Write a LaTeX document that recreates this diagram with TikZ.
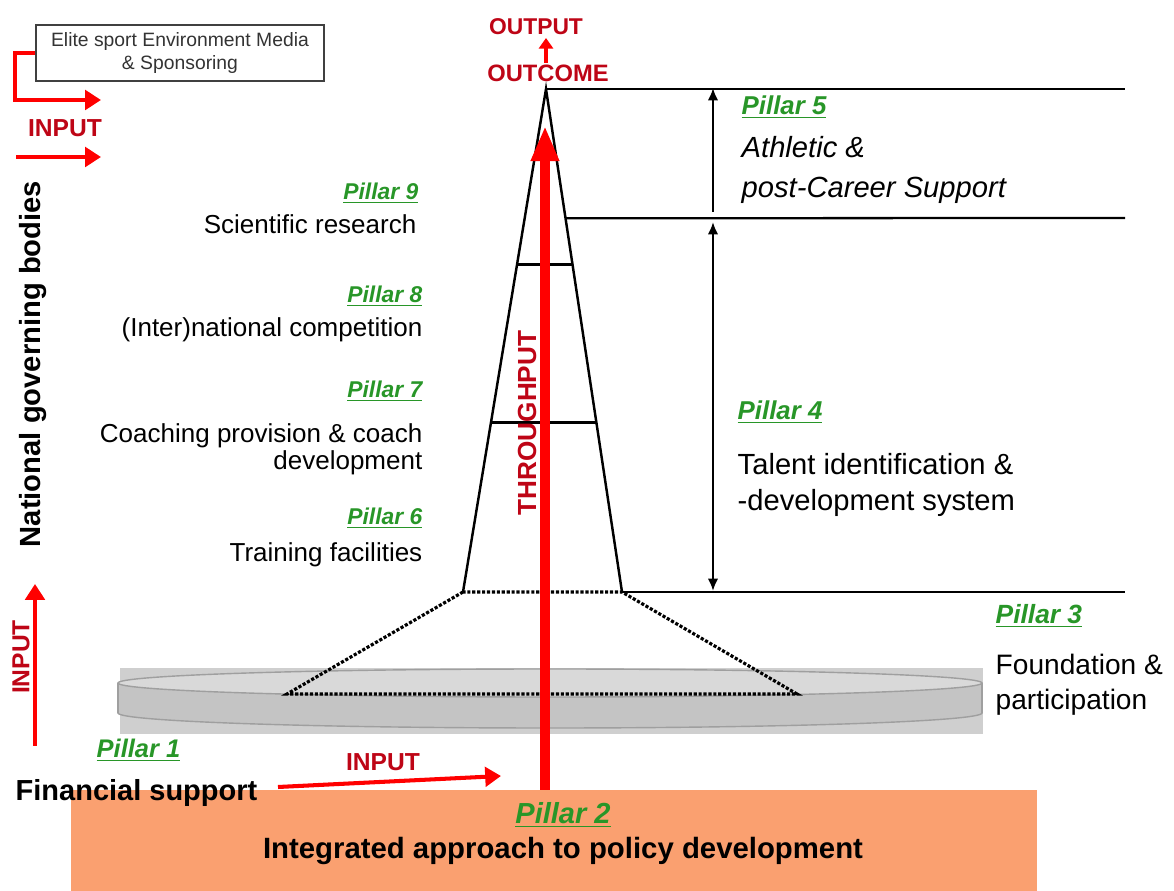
\documentclass[tikz,border=0pt]{standalone}
\usepackage{fontspec}
\setmainfont{Liberation Sans}
\usetikzlibrary{arrows.meta,calc}

\definecolor{pillargreen}{RGB}{40,150,40}
\definecolor{inputred}{RGB}{190,5,22}
\definecolor{policyorange}{RGB}{250,160,112}
\newcommand{\pillar}[1]{\textit{\textbf{\underline{Pillar #1}}}}

\begin{document}
\begin{tikzpicture}[x=0.02cm,y=-0.02cm,thick,
  pilleft/.style={text=pillargreen,inner sep=0pt,anchor=east,font=\fontsize{13}{15}\selectfont},
  pilright/.style={text=pillargreen,inner sep=0pt,anchor=west,font=\fontsize{14.7}{17}\selectfont},
  lefttxt/.style={inner sep=0pt,anchor=east,align=right,font=\fontsize{14.8}{15.3}\selectfont},
  righttxt/.style={inner sep=0pt,anchor=west,align=left,font=\fontsize{16.6}{21}\selectfont},
  redlbl/.style={text=inputred,inner sep=0pt,font=\fontsize{14}{16}\selectfont\bfseries},
  redarr/.style={red,line width=2.3pt,-{Triangle[length=9pt,width=11pt]}},
  dimarr/.style={black,line width=1.3pt},
  dots/.style={densely dotted,line width=1.8pt}]
  \useasboundingbox (0,0) rectangle (1174,891);

  %policy base
  \fill[policyorange] (71,790) rectangle (1037,891);

  %grey disc
  \fill[gray!38] (120,668) rectangle (983,734);
  \filldraw[fill=gray!46,draw=gray!75,line width=0.8pt] (550,713) ellipse [x radius=432,y radius=15];
  \fill[gray!46] (118,683) rectangle (982,713);
  \draw[gray!75,line width=0.8pt] (118,683) -- (118,713) (982,683) -- (982,713);
  \filldraw[fill=gray!30,draw=gray!75,line width=0.8pt] (550,683) ellipse [x radius=432,y radius=14];

  %spire
  \coordinate (apex) at (546,89);
  \coordinate (spireL) at (463,592);
  \coordinate (spireR) at (622,592);
  \coordinate (baseL) at (287,694);
  \coordinate (baseR) at (797,694);
  \draw[line width=1.4pt] (spireL) -- (apex) -- (spireR);
  \draw[dots] (spireL) -- (baseL) -- (baseR) -- (spireR) -- cycle;
  \draw[line width=1.4pt] ($(apex)!0.349!(spireL)$) -- ($(apex)!0.349!(spireR)$);
  \draw[line width=1.4pt] ($(apex)!0.663!(spireL)$) -- ($(apex)!0.663!(spireR)$);

  %levels
  \draw[line width=1.3pt] (apex) -- (1125,89);
  \draw[line width=1.3pt] ($(apex)!0.257!(spireR)$) -- (1125,218);
  \draw[line width=1.3pt] (spireR) -- (1125,592);
  \draw[dimarr,-{Latex[length=7pt,width=6pt]}] (713,212) -- (713,88);
  \draw[dimarr,{Latex[length=7pt,width=6pt]}-{Latex[length=7pt,width=6pt]}] (713,222) -- (713,591);

  %throughput
  \coordinate (thrBase) at (545,790);
  \coordinate (thrTip) at (545,126);
  \draw[red,line width=5.6pt,-{Triangle[length=20pt,width=15pt]}] (thrBase) -- (thrTip);
  \node[redlbl,rotate=90,font=\fontsize{14.9}{16}\selectfont\bfseries] (thr) at (527,423) {THROUGHPUT};

  %outcome and output
  \node[redlbl,font=\fontsize{13.5}{15}\selectfont\bfseries] (outcome) at (548,73) {OUTCOME};
  \node[redlbl,font=\fontsize{13}{15}\selectfont\bfseries] (output) at (536,27) {OUTPUT};
  \draw[red,line width=2pt,-{Triangle[length=6pt,width=8pt]}] (546,63) -- (546,38);

  %media box
  \node[draw=black!75,line width=0.9pt,minimum width=5.76cm,minimum height=1.12cm,inner sep=1pt,
    align=center,text=black!80,font=\fontsize{11}{13.6}\selectfont] (media) at (180,53)
    {Elite sport Environment Media\\\& Sponsoring};
  \coordinate (inTop) at (101,100);
  \coordinate (inMidL) at (16,157);
  \coordinate (inMid) at (101,157);
  \draw[redarr] (media.west) -- ++(-20,0) |- (inTop);
  \draw[redarr] (inMidL) -- (inMid);
  \node[redlbl] (inputA) at (65,128) {INPUT};

  %governing bodies
  \node[rotate=90,inner sep=0pt,font=\fontsize{16.6}{18}\selectfont\bfseries] (ngb) at (33,364) {National governing bodies};
  \coordinate (ngbLow) at (35,746);
  \coordinate (ngbHigh) at (35,584);
  \draw[redarr] (ngbLow) -- (ngbHigh);
  \node[redlbl,rotate=90] (inputB) at (21,657) {INPUT};

  %financial input
  \coordinate (finStart) at (278,787);
  \coordinate (finEnd) at (501,776);
  \draw[redarr] (finStart) -- (finEnd);
  \node[redlbl] (inputC) at (383,762) {INPUT};

  %left pillars
  \node[pilleft] (p9) at (419,193) {\pillar{9}};
  \node[lefttxt] (t9) at (417,224) {Scientific research};
  \node[pilleft] (p8) at (423,296) {\pillar{8}};
  \node[lefttxt] (t8) at (423,330) {(Inter)national competition};
  \node[pilleft] (p7) at (423,391) {\pillar{7}};
  \node[lefttxt] (t7) at (423,449) {Coaching provision \& coach\\development};
  \node[pilleft] (p6) at (423,518) {\pillar{6}};
  \node[lefttxt] (t6) at (423,555) {Training facilities};

  %right pillars
  \node[pilright] (p5) at (741,107) {\pillar{5}};
  \node[righttxt,font=\fontsize{16.6}{22.7}\selectfont\itshape] (t5) at (741,170) {Athletic \&\\post-Career Support};
  \node[pilright] (p4) at (737,412) {\pillar{4}};
  \node[righttxt] (t4) at (737,485) {Talent identification \&\\-development system};
  \node[pilright,font=\fontsize{15}{17}\selectfont] (p3) at (995,616) {\pillar{3}};
  \node[righttxt,font=\fontsize{16}{20}\selectfont] (t3) at (995,685) {Foundation \&\\participation};

  %bottom pillars
  \node[pilright,font=\fontsize{14.5}{17}\selectfont] (p1) at (96,750) {\pillar{1}};
  \node[inner sep=0pt,anchor=west,font=\fontsize{16.5}{18}\selectfont\bfseries] (fin) at (15,793) {Financial support};
  \node[text=pillargreen,inner sep=0pt,font=\fontsize{16.5}{18}\selectfont] (p2) at (563,815) {\pillar{2}};
  \node[inner sep=0pt,font=\fontsize{16.7}{18}\selectfont\bfseries] (pol) at (563,851) {Integrated approach to policy development};
\end{tikzpicture}
\end{document}
